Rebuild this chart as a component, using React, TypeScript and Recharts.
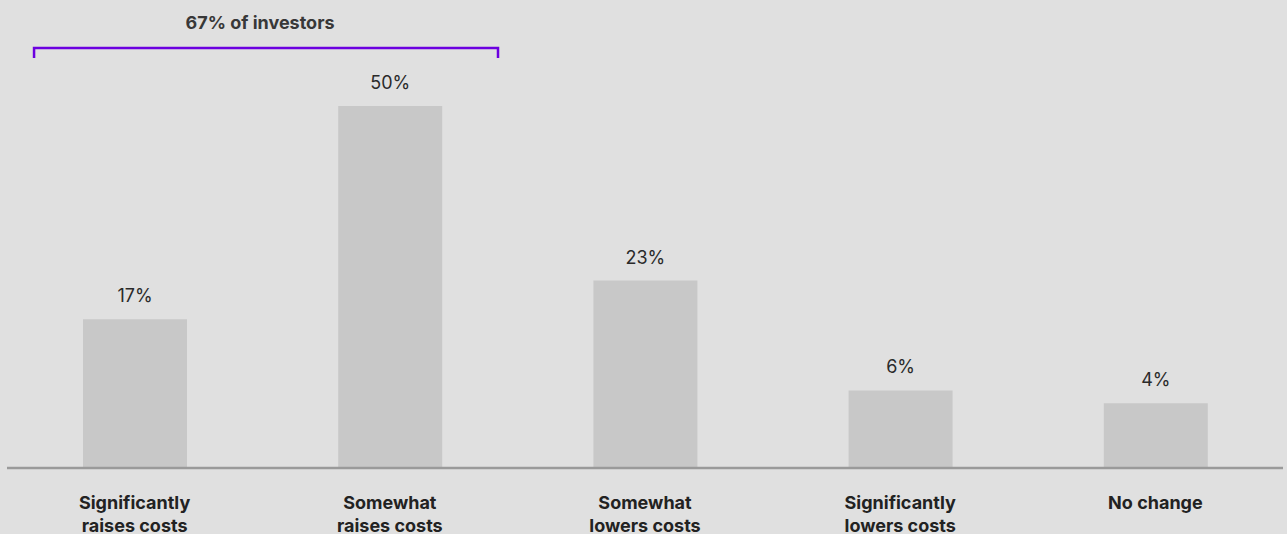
import { Bar, BarChart, LabelList, XAxis, YAxis } from "recharts";

const categories = [
  "Significantly\nraises costs",
  "Somewhat\nraises costs",
  "Somewhat\nlowers costs",
  "Significantly\nlowers costs",
  "No change",
];
const shares = [17, 50, 23, 6, 4];
const bracketLabel = "67% of investors";

const AXIS_MIN = -6;
const AXIS_MAX = 50;

const W = 1287;
const H = 534;
const M = { top: 106, right: 4, bottom: 0, left: 7 };
const FONT = "Inter, 'Open Sans', sans-serif";

const data = categories.map((name, i) => ({ name, value: shares[i] }));

// bracket spans the first two categories
const band = (W - M.left - M.right) / categories.length;
const bracketX1 = M.left + band * 0.106;
const bracketX2 = M.left + band * 1.924;

function CategoryTick(props: any) {
  const { x, y, payload } = props;
  const lines = String(payload.value).split("\n");
  return (
    <text
      x={x}
      y={y}
      textAnchor="middle"
      fill="#222"
      fontFamily={FONT}
      fontSize={18}
      fontWeight={700}
    >
      {lines.map((line, i) => (
        <tspan key={i} x={x} dy={i === 0 ? 33 : 23}>
          {line}
        </tspan>
      ))}
    </text>
  );
}

export default function App() {
  return (
    <div
      style={{
        position: "absolute",
        left: 0,
        top: 0,
        width: W,
        height: H,
        background: "#e0e0e0",
        fontFamily: FONT,
      }}
    >
      <svg
        width={W}
        height={70}
        style={{ position: "absolute", left: 0, top: 0 }}
      >
        <text
          x={(bracketX1 + bracketX2) / 2 - 6}
          y={28.5}
          textAnchor="middle"
          fill="#383838"
          fontFamily={FONT}
          fontSize={18}
          fontWeight={700}
        >
          {bracketLabel}
        </text>
        <path
          d={`M${bracketX1},58 V48 H${bracketX2} V58`}
          fill="none"
          stroke="#6c00e0"
          strokeWidth={2.5}
        />
      </svg>
      <BarChart
        width={W}
        height={H}
        data={data}
        margin={M}
        style={{ position: "absolute", left: 0, top: 0 }}
      >
        <XAxis
          dataKey="name"
          axisLine={{ stroke: "#9a9a9a", strokeWidth: 2.5 }}
          tickLine={false}
          interval={0}
          height={66}
          tick={<CategoryTick />}
        />
        <YAxis hide type="number" domain={[AXIS_MIN, AXIS_MAX]} />
        <Bar
          dataKey={(d: any) => [AXIS_MIN, d.value]}
          fill="#c8c8c8"
          barSize={104}
          isAnimationActive={false}
        >
          <LabelList
            dataKey="value"
            position="top"
            offset={17}
            formatter={(v: any) => `${v}%`}
            fill="#2a2a2a"
            fontFamily={FONT}
            fontSize={18}
          />
        </Bar>
      </BarChart>
    </div>
  );
}
